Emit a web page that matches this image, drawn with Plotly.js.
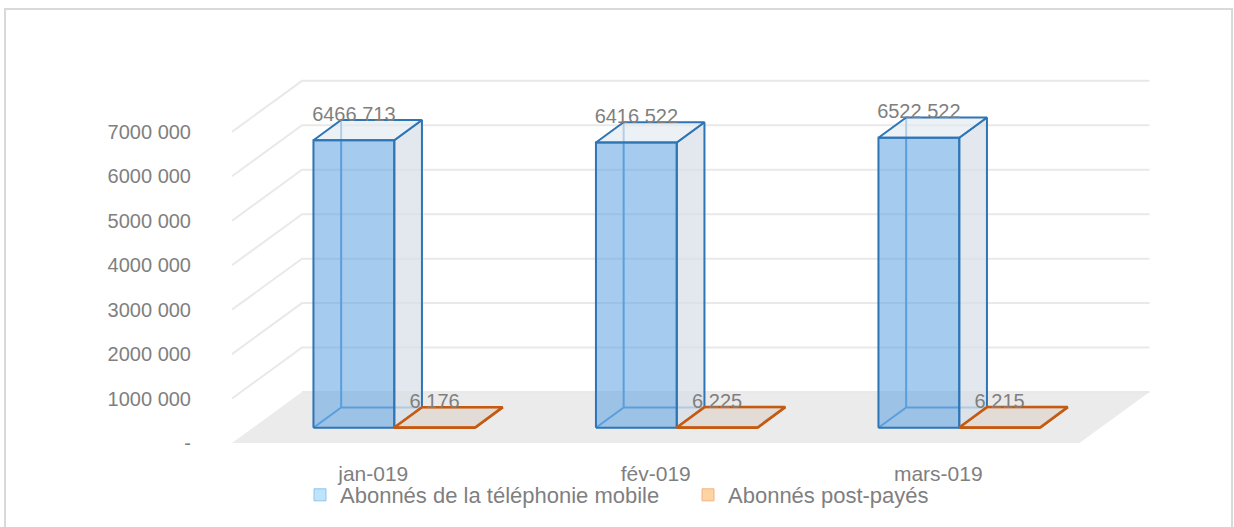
<!DOCTYPE html>
<html><head><meta charset="utf-8">
<script src="https://cdn.plot.ly/plotly-3.0.1.min.js"></script>
<style>html,body{margin:0;padding:0;background:#fff}#chart{width:1234px;height:527px}</style>
</head><body><div id="chart"></div>
<script>
// ---- data ----
const categories = ['jan-019', 'fév-019', 'mars-019'];
const mobileSubscribers = [6466713, 6416522, 6522522];
const postpaidSubscribers = [6176, 6225, 6215];
const yTickValues = [0, 1000000, 2000000, 3000000, 4000000, 5000000, 6000000, 7000000];
const seriesNames = ['Abonnés de la téléphonie mobile', 'Abonnés post-payés'];

function fmt(n) {
  if (n === 0) return '-';
  const t = Math.floor(n / 1000), r = n % 1000;
  return t > 0 ? t + ' ' + String(r).padStart(3, '0') : String(r);
}

// ---- geometry (pixel-based layout constants) ----
const W = 1234, H = 527, L = 222, R = 1165, T = 70, B = 453;
const X0PX = 232, CATPX = 282.5, Y0PX = 443, PXM = 44.45; // px per million
const xRange = [-0.5 - (X0PX - L) / CATPX, -0.5 + (R - X0PX) / CATPX];
const yRange = [-(B - Y0PX) / PXM * 1e6, (Y0PX - T) / PXM * 1e6];
function off(dx, dy) { return [dx / CATPX, dy / PXM * 1e6]; }
const FRONT = off(21, 15.3), BACK = off(48.7, 35.6), WALL = off(70, 51);
const LABEL_DROP = 6 / PXM * 1e6;
const BW = 80.8 / CATPX;
const FONT = 'Liberation Sans, Arial, sans-serif';
const GREY = '#7f7f7f';

function pushPoly(obj, pts) {
  pts.forEach(p => { obj.x.push(p[0]); obj.y.push(p[1]); });
  obj.x.push(null); obj.y.push(null);
}
function boxes(values, leftSide) {
  const r = { front: {x:[],y:[]}, top: {x:[],y:[]}, right: {x:[],y:[]}, hidden: {x:[],y:[]}, lbl: {x:[],y:[],t:[]} };
  const [fx, fy] = FRONT, [bx, by] = BACK;
  values.forEach((v, i) => {
    const x0 = i + (leftSide ? -BW : 0), x1 = x0 + BW;
    pushPoly(r.hidden, [[x0+fx, fy], [x0+bx, by], [x1+bx, by]]);
    pushPoly(r.hidden, [[x0+bx, by], [x0+bx, by+v]]);
    pushPoly(r.right, [[x1+fx, fy], [x1+bx, by], [x1+bx, by+v], [x1+fx, fy+v], [x1+fx, fy]]);
    pushPoly(r.top, [[x0+fx, fy+v], [x1+fx, fy+v], [x1+bx, by+v], [x0+bx, by+v], [x0+fx, fy+v]]);
    pushPoly(r.front, [[x0+fx, fy], [x1+fx, fy], [x1+fx, fy+v], [x0+fx, fy+v], [x0+fx, fy]]);
    r.lbl.x.push((x0 + x1) / 2 + fx); r.lbl.y.push(by + v - LABEL_DROP); r.lbl.t.push(fmt(v));
  });
  return r;
}

const traces = [];
const nCat = categories.length;
// floor
traces.push({ type: 'scatter', mode: 'lines', fill: 'toself', fillcolor: '#ebebeb', line: {width: 0, color: '#ebebeb'},
  x: [-0.5, nCat - 0.5, nCat - 0.5 + WALL[0], -0.5 + WALL[0], -0.5],
  y: [0, 0, WALL[1], WALL[1], 0], showlegend: false, hoverinfo: 'skip' });
// gridlines (left wall + back wall)
const gx = [], gy = [];
yTickValues.forEach(v => {
  if (v > 0) { gx.push(-0.5, -0.5 + WALL[0]); gy.push(v, v + WALL[1]); }
  gx.push(-0.5 + WALL[0], nCat - 0.5 + WALL[0], null);
  gy.push(v + WALL[1], v + WALL[1], null);
});
traces.push({ type: 'scatter', mode: 'lines', x: gx, y: gy, line: {color: '#e9e9e9', width: 2},
  showlegend: false, hoverinfo: 'skip' });

function addSeries(values, leftSide, c) {
  const b = boxes(values, leftSide);
  traces.push({ type:'scatter', mode:'lines', x:b.hidden.x, y:b.hidden.y, line:{color:c.hidden, width:2}, showlegend:false, hoverinfo:'skip' });
  traces.push({ type:'scatter', mode:'lines', fill:'toself', fillcolor:c.side, x:b.right.x, y:b.right.y, line:{color:c.edge, width:c.w}, showlegend:false, hoverinfo:'skip' });
  traces.push({ type:'scatter', mode:'lines', fill:'toself', fillcolor:c.top, x:b.top.x, y:b.top.y, line:{color:c.edge, width:c.w}, showlegend:false, hoverinfo:'skip' });
  traces.push({ type:'scatter', mode:'lines', fill:'toself', fillcolor:c.front, x:b.front.x, y:b.front.y, line:{color:c.edge, width:c.w}, showlegend:false, hoverinfo:'skip' });
  return b;
}
const blue = addSeries(mobileSubscribers, true, {hidden:'#5b9bd5', side:'rgba(214,222,231,0.7)', top:'rgba(226,233,241,0.65)', front:'rgba(91,160,225,0.55)', edge:'#2e75b6', w:2});
const orange = addSeries(postpaidSubscribers, false, {hidden:'#c55a11', side:'rgba(225,215,208,0.8)', top:'rgba(225,215,208,0.8)', front:'rgba(225,215,208,0.8)', edge:'#c55a11', w:2.5});
[blue, orange].forEach(b => traces.push({ type:'scatter', mode:'text', x:b.lbl.x, y:b.lbl.y, text:b.lbl.t,
  textposition:'top center', textfont:{family:FONT, size:20, color:GREY}, cliponaxis:false, showlegend:false, hoverinfo:'skip' }));
// legend entries
traces.push({ type:'scatter', mode:'markers', x:[null], y:[null], name: seriesNames[0], legend:'legend',
  marker:{symbol:'square', size:12, color:'#bde4fb', line:{color:'#8fc3ec', width:1}} });
traces.push({ type:'scatter', mode:'markers', x:[null], y:[null], name: seriesNames[1], legend:'legend2',
  marker:{symbol:'square', size:12, color:'#ffd4a3', line:{color:'#f4b183', width:1}} });

const legendBase = { xref:'container', yref:'container', xanchor:'left', yanchor:'top', orientation:'h',
  bgcolor:'rgba(0,0,0,0)', font:{family:FONT, size:22, color:GREY} };

const layout = {
  width: W, height: H, paper_bgcolor: '#fff', plot_bgcolor: 'rgba(0,0,0,0)',
  margin: {l: L, r: W - R, t: T, b: H - B, pad: 0},
  font: {family: FONT, color: GREY},
  showlegend: true,
  legend: Object.assign({}, legendBase, {x: 300 / W, y: 1 - 474 / H}),
  legend2: Object.assign({}, legendBase, {x: 688 / W, y: 1 - 474 / H}),
  xaxis: { range: xRange, tickvals: [0, 1, 2].slice(0, nCat), ticktext: categories, showgrid: false, zeroline: false,
    showline: false, ticks: 'outside', ticklen: 2, tickcolor: 'rgba(0,0,0,0)', tickfont: {family: FONT, size: 21, color: GREY}, fixedrange: true },
  yaxis: { range: yRange, tickvals: yTickValues, ticktext: yTickValues.map(fmt), showgrid: false, zeroline: false,
    showline: false, ticks: 'outside', ticklen: 26, tickcolor: 'rgba(0,0,0,0)', tickfont: {family: FONT, size: 20, color: GREY}, fixedrange: true },
  shapes: [{ type: 'rect', xref: 'paper', yref: 'paper', layer: 'below',
    x0: (5 - L) / (R - L), x1: (1232 - L) / (R - L), y0: (B - 560) / (B - T), y1: (B - 9) / (B - T),
    line: {color: '#d9d9d9', width: 2}, fillcolor: 'rgba(0,0,0,0)' }],
  hovermode: false
};
Plotly.newPlot('chart', traces, layout, {displayModeBar: false, staticPlot: true});
</script></body></html>
